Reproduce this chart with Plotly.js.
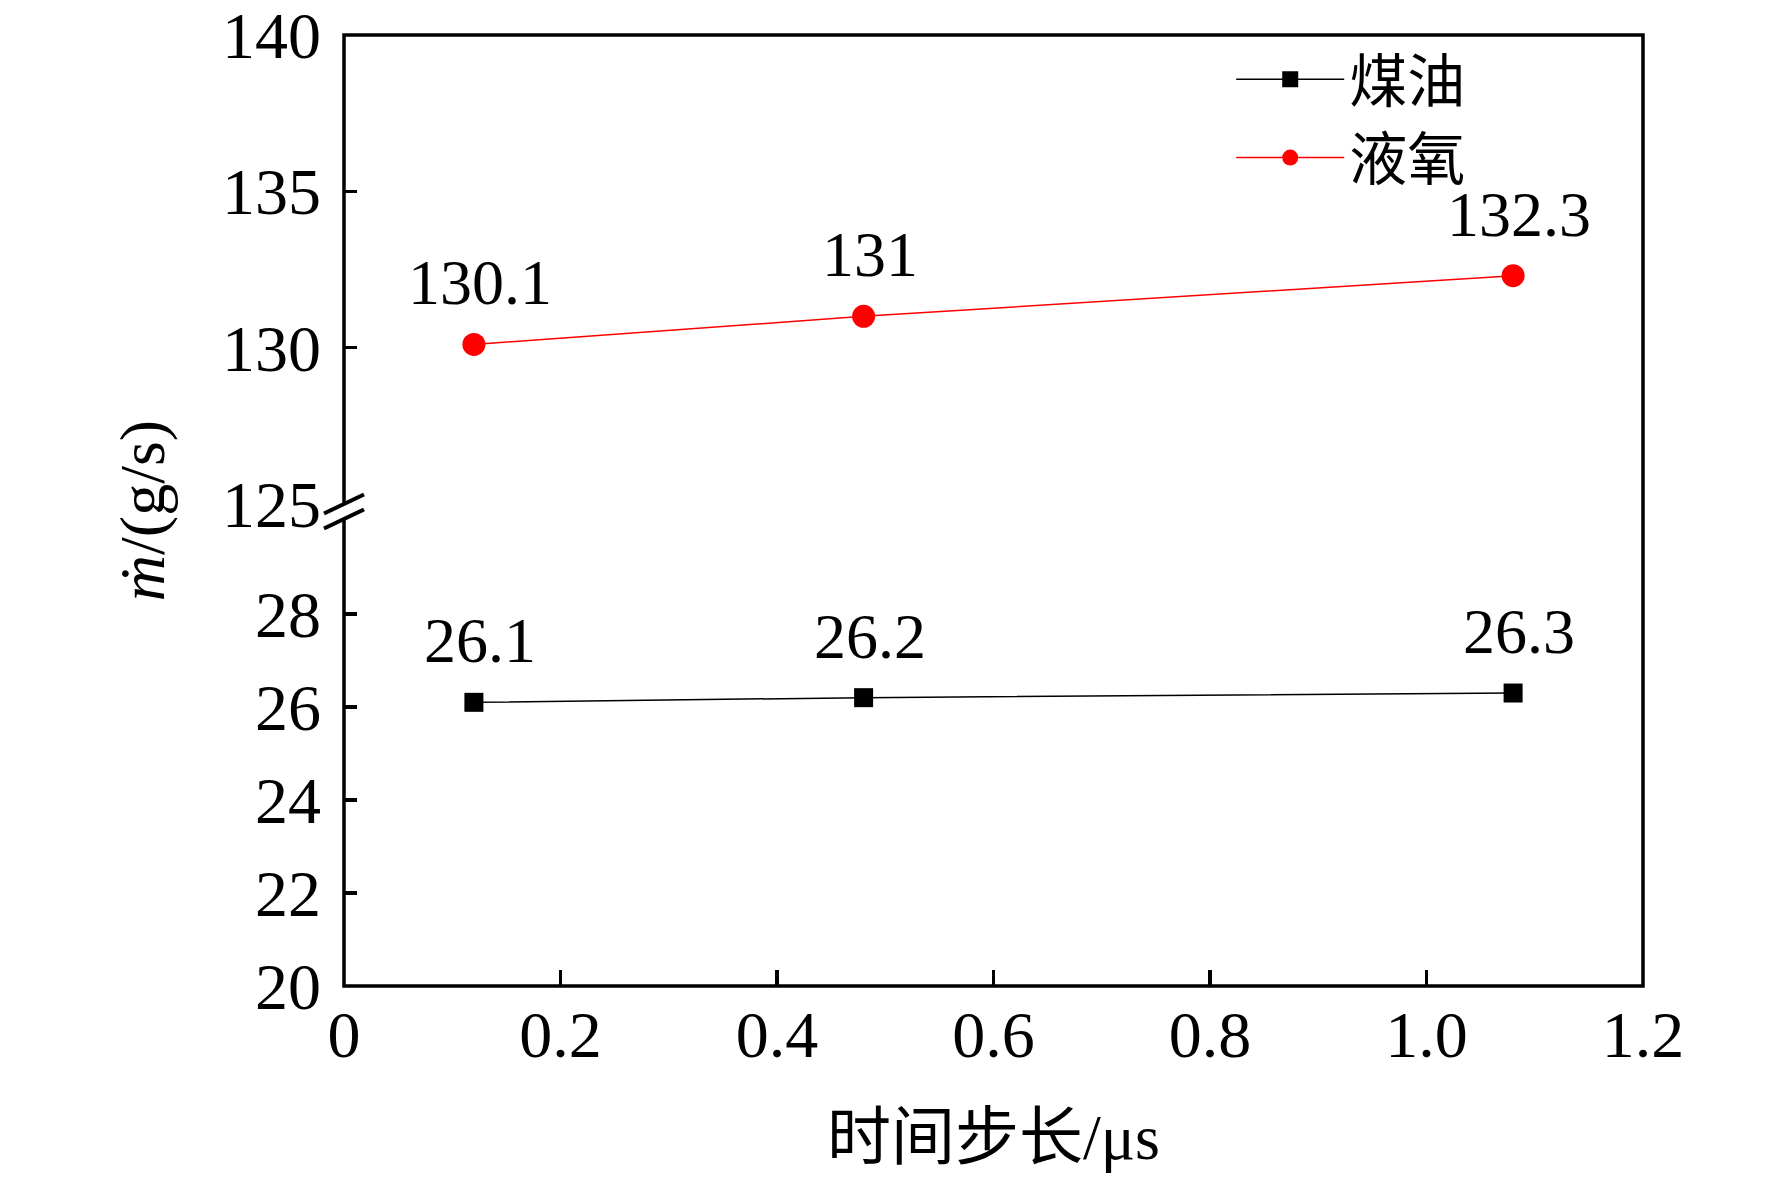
<!DOCTYPE html>
<html>
<head>
<meta charset="utf-8">
<script src="https://cdn.plot.ly/plotly-3.0.1.min.js"></script>
<style>
  body { margin: 0; background: #fff; }
  #chart { width: 1772px; height: 1180px; }
</style>
</head>
<body>
<div id="chart"></div>
<script>
// time step (us)
var timeStep = [0.12, 0.48, 1.08];
// mass flow rate (g/s)
var kerosene = [26.1, 26.2, 26.3];
var lox = [130.1, 131, 132.3];
var keroseneLabels = ['26.1', '26.2', '26.3'];
var loxLabels = ['130.1', '131', '132.3'];

var xTicks = [0, 0.2, 0.4, 0.6, 0.8, 1.0, 1.2];
var xTickText = ['0', '0.2', '0.4', '0.6', '0.8', '1.0', '1.2'];
var yLowTicks = [20, 22, 24, 26, 28];
var yHighTicks = [125, 130, 135, 140];

var FONT = 'Liberation Serif, Times New Roman, Noto Sans CJK SC, serif';

var data = [
  {
    x: timeStep, y: kerosene, name: '煤油',
    type: 'scatter', mode: 'lines+markers',
    xaxis: 'x', yaxis: 'y',
    line: {color: '#000', width: 1.5},
    marker: {symbol: 'square', size: 19, color: '#000'}
  },
  {
    x: timeStep, y: lox, name: '液氧',
    type: 'scatter', mode: 'lines+markers',
    xaxis: 'x', yaxis: 'y2',
    line: {color: '#ff0000', width: 1.5},
    marker: {symbol: 'circle', size: 23, color: '#ff0000'}
  }
];

function pointLabel(x, y, text, axis) {
  return {
    x: x, y: y, text: text, xref: 'x', yref: axis,
    showarrow: false, yanchor: 'bottom', yshift: 24, xshift: 6,
    font: {family: FONT, size: 64, color: '#000'}
  };
}

var annotations = [];
timeStep.forEach(function(t, i) {
  annotations.push(pointLabel(t, kerosene[i], keroseneLabels[i], 'y'));
  annotations.push(pointLabel(t, lox[i], loxLabels[i], 'y2'));
});
annotations.push({
  xref: 'paper', yref: 'paper', x: -0.155, y: 0.5,
  xanchor: 'center', yanchor: 'middle',
  text: '<i>ṁ</i>/(g/s)', textangle: -90, showarrow: false,
  font: {family: FONT, size: 64, color: '#000'}
});

// axis break marks on the left axis
var bx = 20 / 1299, bc = 0.499;
var t0 = bc - 2 / 951, t1 = bc + 17 / 951;
var b0 = bc - 17 / 951, b1 = bc + 2 / 951;

var shapes = [
  {type: 'rect', xref: 'paper', yref: 'paper', x0: 0, x1: 1, y0: 0, y1: 1,
   line: {color: '#000', width: 3.5}, layer: 'above'},
  {type: 'path', xref: 'paper', yref: 'paper',
   path: 'M' + (-bx) + ',' + t0 + ' L' + bx + ',' + t1 + ' L' + bx + ',' + b1 + ' L' + (-bx) + ',' + b0 + ' Z',
   fillcolor: '#fff', line: {width: 0}, layer: 'above'},
  {type: 'line', xref: 'paper', yref: 'paper', x0: -bx, y0: t0, x1: bx, y1: t1,
   line: {color: '#000', width: 4}, layer: 'above'},
  {type: 'line', xref: 'paper', yref: 'paper', x0: -bx, y0: b0, x1: bx, y1: b1,
   line: {color: '#000', width: 4}, layer: 'above'}
];

var yCommon = {
  showline: false, zeroline: false, showgrid: false,
  ticks: 'inside', ticklen: 13, tickwidth: 3.5, tickcolor: '#000',
  ticklabelstandoff: 22, ticklabeloverflow: 'allow',
  tickfont: {family: FONT, size: 66, color: '#000'}
};

var layout = {
  width: 1772, height: 1180,
  margin: {l: 344, r: 129, t: 35, b: 194},
  paper_bgcolor: '#fff', plot_bgcolor: '#fff',
  font: {family: FONT, color: '#000'},
  showlegend: true,
  legend: {
    x: 0.683, y: 1.0, xanchor: 'left', yanchor: 'top',
    bgcolor: 'rgba(0,0,0,0)', itemwidth: 108,
    font: {family: FONT, size: 58, color: '#000'}
  },
  xaxis: {
    range: [0, 1.2], tickvals: xTicks, ticktext: xTickText,
    anchor: 'y', showline: false, zeroline: false, showgrid: false,
    ticks: 'inside', ticklen: 16, tickwidth: 3.5, tickcolor: '#000',
    ticklabelstandoff: 4, ticklabeloverflow: 'allow',
    tickfont: {family: FONT, size: 66, color: '#000'},
    title: {text: '时间步长/μs', standoff: 44,
            font: {family: FONT, size: 64, color: '#000'}}
  },
  yaxis: Object.assign({}, yCommon, {
    domain: [0, 0.489], range: [20, 30], tickvals: yLowTicks, anchor: 'x'
  }),
  yaxis2: Object.assign({}, yCommon, {
    domain: [0.507, 1], range: [125, 140], tickvals: yHighTicks, anchor: 'x'
  }),
  annotations: annotations,
  shapes: shapes
};

Plotly.newPlot('chart', data, layout, {displayModeBar: false, staticPlot: true});
</script>
</body>
</html>
